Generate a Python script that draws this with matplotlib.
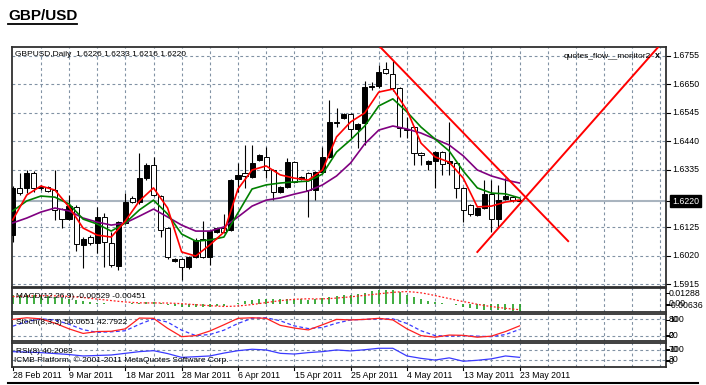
import matplotlib
matplotlib.use('Agg')
import matplotlib.pyplot as plt
import matplotlib.transforms as mtransforms
from matplotlib.lines import Line2D
import numpy as np

plt.rcParams['font.family'] = ['Liberation Sans', 'DejaVu Sans']

# ---- daily GBPUSD bars, 28 Feb 2011 .. 23 May 2011 ----
opens = [1.6095, 1.6269, 1.6269, 1.6324, 1.6269, 1.6272, 1.6261, 1.6191, 1.6154, 1.6199,
         1.6059, 1.6088, 1.6066, 1.6162, 1.6066, 1.5981, 1.6140, 1.6232, 1.6217, 1.6305,
         1.6353, 1.6239, 1.6121, 1.6000, 1.6007, 1.5977, 1.6014, 1.6081, 1.6014, 1.6106,
         1.6121, 1.6114, 1.6302, 1.6324, 1.6309, 1.6372, 1.6383, 1.6335, 1.6254, 1.6272,
         1.6364, 1.6302, 1.6324, 1.6261, 1.6328, 1.6383, 1.6512, 1.6527, 1.6541, 1.6486,
         1.6508, 1.6641, 1.6645, 1.6707, 1.6689, 1.6637, 1.6486, 1.6493, 1.6398, 1.6357,
         1.6368, 1.6401, 1.6361, 1.6361, 1.6269, 1.6206, 1.6169, 1.6195, 1.6246, 1.6154,
         1.6228, 1.6235, 1.6226]
highs = [1.6276, 1.6324, 1.6335, 1.6331, 1.6280, 1.6276, 1.6335, 1.6195, 1.6243, 1.6206,
         1.6088, 1.6095, 1.6199, 1.6176, 1.6106, 1.6147, 1.6250, 1.6239, 1.6398, 1.6361,
         1.6383, 1.6243, 1.6125, 1.6011, 1.6011, 1.6018, 1.6084, 1.6147, 1.6114, 1.6125,
         1.6173, 1.6302, 1.6361, 1.6427, 1.6427, 1.6394, 1.6420, 1.6339, 1.6276, 1.6379,
         1.6368, 1.6313, 1.6328, 1.6331, 1.6420, 1.6593, 1.6563, 1.6545, 1.6545, 1.6508,
         1.6663, 1.6660, 1.6722, 1.6733, 1.6735, 1.6641, 1.6530, 1.6497, 1.6401, 1.6372,
         1.6405, 1.6405, 1.6512, 1.6364, 1.6272, 1.6210, 1.6199, 1.6298, 1.6298, 1.6280,
         1.6305, 1.6240, 1.6233]
lows = [1.6070, 1.6243, 1.6250, 1.6254, 1.6261, 1.6254, 1.6151, 1.6121, 1.6151, 1.6036,
        1.5974, 1.6059, 1.6029, 1.5977, 1.5978, 1.5966, 1.6136, 1.6213, 1.6210, 1.6298,
        1.6239, 1.6088, 1.6007, 1.5996, 1.5930, 1.5970, 1.6011, 1.6011, 1.5985, 1.6102,
        1.6102, 1.6110, 1.6254, 1.6269, 1.6305, 1.6368, 1.6305, 1.6224, 1.6250, 1.6269,
        1.6287, 1.6298, 1.6162, 1.6224, 1.6324, 1.6379, 1.6493, 1.6523, 1.6453, 1.6416,
        1.6427, 1.6630, 1.6637, 1.6689, 1.6626, 1.6457, 1.6453, 1.6353, 1.6353, 1.6335,
        1.6269, 1.6316, 1.6316, 1.6232, 1.6143, 1.6165, 1.6165, 1.6191, 1.6106, 1.6121,
        1.6224, 1.6218, 1.6216]
closes = [1.6269, 1.6250, 1.6324, 1.6269, 1.6272, 1.6258, 1.6188, 1.6154, 1.6202, 1.6062,
          1.6081, 1.6066, 1.6162, 1.6070, 1.5985, 1.6143, 1.6217, 1.6217, 1.6305, 1.6353,
          1.6243, 1.6114, 1.6014, 1.6007, 1.5977, 1.6014, 1.6077, 1.6014, 1.6110, 1.6121,
          1.6106, 1.6298, 1.6316, 1.6313, 1.6361, 1.6390, 1.6335, 1.6254, 1.6272, 1.6364,
          1.6291, 1.6309, 1.6261, 1.6328, 1.6383, 1.6512, 1.6509, 1.6541, 1.6486, 1.6504,
          1.6641, 1.6645, 1.6696, 1.6692, 1.6637, 1.6490, 1.6482, 1.6398, 1.6390, 1.6368,
          1.6401, 1.6357, 1.6368, 1.6269, 1.6188, 1.6173, 1.6195, 1.6246, 1.6154, 1.6224,
          1.6239, 1.6226, 1.6220]

# moving averages, read every second bar
ma_fast = [1.6151, 1.6243, 1.6276, 1.6261, 1.6199, 1.6121, 1.6095, 1.6088, 1.6147, 1.6221,
           1.6269, 1.6195, 1.6033, 1.6018, 1.6059, 1.6106, 1.6265, 1.6335, 1.6350, 1.6317,
           1.6305, 1.6298, 1.6335, 1.6457, 1.6512, 1.6545, 1.6622, 1.6633, 1.6556, 1.6434,
           1.6383, 1.6364, 1.6305, 1.6199, 1.6202, 1.6217, 1.6224]
ma_mid = [1.6184, 1.6221, 1.6239, 1.6235, 1.6210, 1.6154, 1.6136, 1.6110, 1.6140, 1.6188,
          1.6224, 1.6173, 1.6099, 1.6073, 1.6077, 1.6088, 1.6177, 1.6265, 1.6280, 1.6287,
          1.6291, 1.6294, 1.6320, 1.6401, 1.6446, 1.6497, 1.6571, 1.6597, 1.6549, 1.6493,
          1.6449, 1.6405, 1.6331, 1.6269, 1.6250, 1.6247, 1.6232]
ma_slow = [1.6140, 1.6158, 1.6180, 1.6195, 1.6184, 1.6158, 1.6143, 1.6132, 1.6140, 1.6165,
           1.6191, 1.6162, 1.6132, 1.6110, 1.6110, 1.6125, 1.6162, 1.6202, 1.6224, 1.6232,
           1.6246, 1.6258, 1.6280, 1.6313, 1.6361, 1.6431, 1.6482, 1.6497, 1.6486, 1.6471,
           1.6449, 1.6427, 1.6387, 1.6335, 1.6313, 1.6298, 1.6287]

# MACD(12,26,9)
macd_main = [0.0070, 0.0072, 0.0073, 0.0070, 0.0066, 0.0062, 0.0055, 0.0048,
             0.0042, 0.0032, 0.0022, 0.0015, 0.0012, 0.0008, 0.0002, 0.0001,
             0.0004, 0.0006, 0.0012, 0.0018, 0.0016, 0.0008, -0.0004, -0.0014,
             -0.0022, -0.0026, -0.0025, -0.0026, -0.0022, -0.0018, -0.0014, 0.0002,
             0.0012, 0.0022, 0.0032, 0.0040, 0.0044, 0.0042, 0.0040, 0.0042,
             0.0042, 0.0040, 0.0036, 0.0038, 0.0045, 0.0058, 0.0066, 0.0072,
             0.0076, 0.0080, 0.0092, 0.0102, 0.0112, 0.0116, 0.0114, 0.0095,
             0.0075, 0.0060, 0.0040, 0.0028, 0.0015, 0.0006, 0.0000, -0.0008,
             -0.0020, -0.0032, -0.0040, -0.0045, -0.0048, -0.0050, -0.0051, -0.0052, -0.00529]
macd_signal = [0.0060, 0.0062, 0.0064, 0.0066, 0.0067, 0.0067, 0.0066, 0.0064,
               0.0061, 0.0057, 0.0052, 0.0046, 0.0040, 0.0034, 0.0028, 0.0022,
               0.0017, 0.0013, 0.0010, 0.0009, 0.0009, 0.0009, 0.0008, 0.0006,
               0.0003, -0.0001, -0.0005, -0.0009, -0.0013, -0.0016, -0.0019, -0.0018,
               -0.0015, -0.0010, -0.0004, 0.0004, 0.0012, 0.0020, 0.0027, 0.0033,
               0.0038, 0.0041, 0.0042, 0.0041, 0.0042, 0.0044, 0.0048, 0.0053,
               0.0058, 0.0064, 0.0070, 0.0076, 0.0082, 0.0088, 0.0094, 0.0098,
               0.0100, 0.0096, 0.0090, 0.0080, 0.0068, 0.0056, 0.0044, 0.0032,
               0.0020, 0.0010, -0.0002, -0.0012, -0.0020, -0.0027, -0.0034, -0.0040, -0.00451]

# Stochastic(8,3,3) and RSI(8), read every second bar
stoch_main = [80, 86, 82, 66, 45, 28, 35, 36, 45, 85, 84, 47, 16, 20, 37, 60, 84, 86, 84,
              58, 48, 41, 60, 80, 78, 80, 84, 78, 45, 20, 14, 22, 21, 14, 18, 35, 56.07]
stoch_signal = [55, 72, 82, 78, 62, 42, 32, 34, 38, 62, 82, 70, 40, 20, 24, 40, 65, 84, 86,
                75, 56, 46, 50, 66, 78, 80, 82, 82, 65, 38, 20, 18, 20, 18, 16, 24, 42.79]
rsi = [64, 62, 60, 56, 52, 46, 48, 50, 57, 64, 68, 56, 40, 43, 46, 58, 68, 74, 71,
       57, 54, 60, 64, 71, 67, 72, 78, 78, 46, 36, 29, 38, 24, 28, 34, 46, 40.21]

# trend lines drawn on the chart: (bar, price) anchors
trend_down = [(52.2, 1.6788), (78.9, 1.6073)]
trend_up = [(66.0, 1.6033), (91.7, 1.6788)]

bid = 1.6220
price_levels = [1.5915, 1.6020, 1.6125, 1.6335, 1.6440, 1.6545, 1.6650, 1.6755]
date_labels = ['28 Feb 2011', '9 Mar 2011', '18 Mar 2011', '28 Mar 2011', '6 Apr 2011',
               '15 Apr 2011', '25 Apr 2011', '4 May 2011', '13 May 2011', '23 May 2011']

# ---------------------------------------------------------------
W, H = 706, 385
fig = plt.figure(figsize=(W / 100, H / 100), dpi=100)
fig.patch.set_facecolor('white')


def rect(l, t, r, b):
    return [l / W, 1 - b / H, (r - l) / W, (b - t) / H]


ax = fig.add_axes(rect(12, 47, 666, 287))
ax_macd = fig.add_axes(rect(12, 288, 666, 312))
ax_st = fig.add_axes(rect(12, 314, 666, 341))
ax_rsi = fig.add_axes(rect(12, 343, 666, 367))
panels = [ax, ax_macd, ax_st, ax_rsi]

grid_col = '#8192a4'
dash = (0, (2.5, 2.5))
xmax = 92.8
for a in panels:
    a.set_xlim(-0.1, xmax)
    a.set_xticks([])
    a.set_yticks([])
    for s in a.spines.values():
        s.set_color('#303030')
        s.set_linewidth(1.3)
    for gx in range(4, 93, 4):
        a.axvline(gx, color=grid_col, lw=0.8, ls=dash, zorder=0)

# ---- main price panel ----
ax.set_ylim(1.5904, 1.6788)
for p in price_levels:
    ax.axhline(p, color=grid_col, lw=0.8, ls=dash, zorder=0)
ax.axhline(bid, color='#a9b4bf', lw=1.5, zorder=1)

idx = np.arange(len(opens))
o = np.array(opens)
c = np.array(closes)
bull = c >= o
ax.vlines(idx, lows, highs, color='black', lw=0.8, zorder=3)
body_lo = np.minimum(o, c)
body_h = np.maximum(np.abs(c - o), 0.00025)
ax.bar(idx, body_h, 0.72, bottom=body_lo, color=np.where(bull, 'black', 'white'),
       edgecolor='black', linewidth=0.7, zorder=4)

ma_idx = np.arange(0, len(opens), 2)
ax.plot(ma_idx, ma_slow, color='#800080', lw=1.2, zorder=5)
ax.plot(ma_idx, ma_mid, color='#008000', lw=1.2, zorder=5)
ax.plot(ma_idx, ma_fast, color='#ff0000', lw=1.2, zorder=5)

for line in (trend_down, trend_up):
    xs, ys = zip(*line)
    ax.plot(xs, ys, color='#ff0000', lw=1.4, zorder=6)

yax = mtransforms.blended_transform_factory(ax.transAxes, ax.transData)
for p in price_levels:
    ax.plot([1.0, 1.006], [p, p], color='black', lw=0.8, transform=yax, clip_on=False)
    ax.text(1.0092, p, f'{p:.4f}', transform=yax, fontsize=6.3, va='center', ha='left')
ax.plot([1.0, 1.006], [bid, bid], color='black', lw=0.8, transform=yax, clip_on=False)
ax.text(1.0092, bid, f'{bid:.4f}', transform=yax, fontsize=6.3, va='center', ha='left',
        color='white', bbox=dict(facecolor='black', edgecolor='black', pad=1.2))

fig.text(15 / W, 1 - 54.5 / H, 'GBPUSD,Daily  1.6226 1.6233 1.6216 1.6220', fontsize=6,
         va='center', ha='left')
fig.text(651 / W, 1 - 56 / H, 'quotes_flow__monitor2', fontsize=6, va='center', ha='right')
fig.text(655 / W, 1 - 56 / H, 'x', fontsize=6.5, weight='bold', va='center', ha='left')

# ---- MACD ----
ax_macd.set_ylim(-0.00636, 0.01288)
ax_macd.vlines(idx, 0, macd_main, color='#1e9e1e', lw=1.2, zorder=2)
ax_macd.plot(idx, macd_signal, color='#ff2020', lw=0.9, ls=(0, (1.5, 1.5)), zorder=3)

# ---- Stochastic ----
ax_st.set_ylim(0, 100)
for lv in (80, 20):
    ax_st.axhline(lv, color=grid_col, lw=0.8, ls=dash, zorder=0)
ax_st.plot(ma_idx, stoch_signal, color='#3a3aff', lw=0.9, ls=(0, (3, 2)), zorder=2)
ax_st.plot(ma_idx, stoch_main, color='#ff2020', lw=0.9, zorder=3)

# ---- RSI ----
ax_rsi.set_ylim(0, 100)
for lv in (70, 30):
    ax_rsi.axhline(lv, color=grid_col, lw=0.8, ls=dash, zorder=0)
ax_rsi.plot(ma_idx, rsi, color='#3a3aff', lw=0.9, zorder=2)

# sub-panel captions and right-hand scales
captions = [(296.5, 'MACD(12,26,9) -0.00529 -0.00451'),
            (323, 'Stoch(8,3,3) 56.0651 42.7922'),
            (351.5, 'RSI(8) 40.2083')]
for yy, txt in captions:
    fig.text(16.5 / W, 1 - yy / H, txt, fontsize=6, va='center', ha='left')
fig.text(14 / W, 1 - 360 / H, 'ICMB Platform, \u00a9 2001-2011 MetaQuotes Software Corp.',
         fontsize=6, va='center', ha='left')

# the terminal draws these scale labels on top of each other
scale_labels = [(293, '0.01288'), (303.5, '0.00'), (305, '-0.00636'),
                (320, '80'), (320, '100'), (335, '20'), (336, '0'),
                (350, '70'), (349, '100'), (360, '30'), (361, '0')]
for yy, txt in scale_labels:
    fig.text(669 / W, 1 - yy / H, txt, fontsize=6.3, va='center', ha='left')
    fig.add_artist(Line2D([666 / W, 669 / W], [1 - yy / H] * 2, color='black', lw=0.7))

# ---- date axis ----
xax = mtransforms.blended_transform_factory(ax_rsi.transData, ax_rsi.transAxes)
for k, lab in enumerate(date_labels):
    xi = k * 8
    ax_rsi.plot([xi, xi], [0, -0.14], color='black', lw=0.8, transform=xax, clip_on=False)
    ax_rsi.text(xi + 0.05, -0.34, lab, transform=xax, fontsize=6.3, va='center', ha='left')

fig.add_artist(Line2D([8 / W, 698 / W], [1 - 383 / H] * 2, color='black', lw=1.5))

# ---- title ----
fig.text(8 / W, 1 - 16 / H, 'GBP/USD', fontsize=11, weight='bold', va='center', ha='left')
fig.add_artist(Line2D([8 / W, 77 / W], [1 - 23.8 / H] * 2, color='black', lw=1.3))

fig.savefig('out.png', dpi=100)
